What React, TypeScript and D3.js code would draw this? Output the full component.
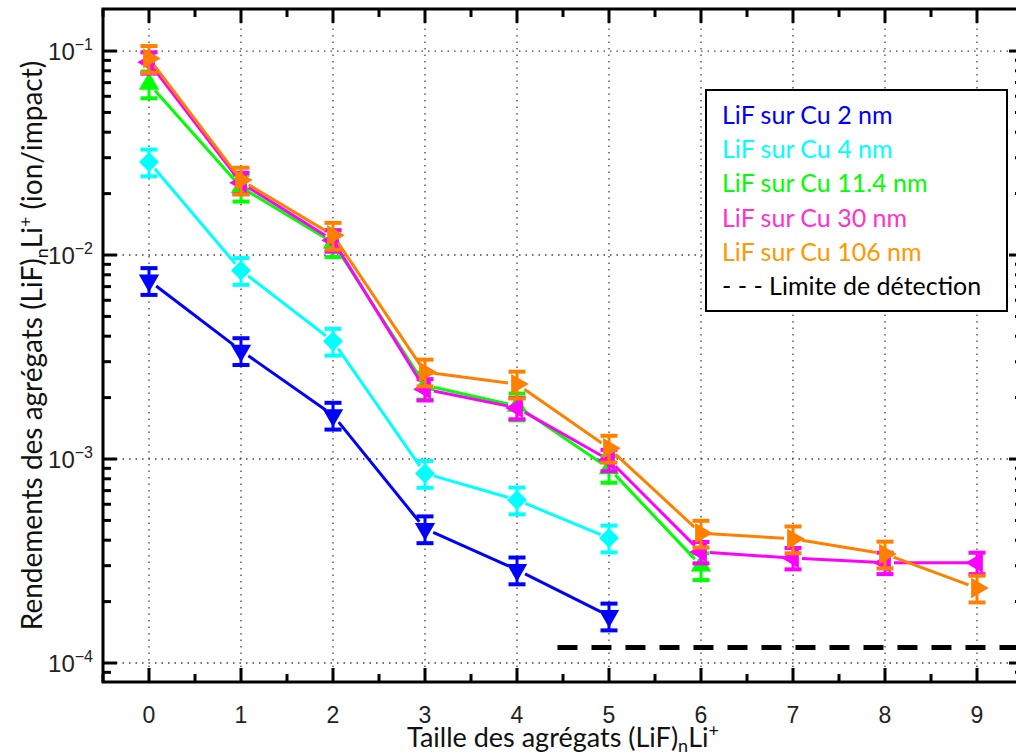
import React from 'react';
import * as d3 from 'd3';

// ---------- data ----------
const clusterSizes = [0, 1, 2, 3, 4, 5, 6, 7, 8, 9];
const yieldCu2nm = [0.0075, 0.0034, 0.00164, 0.000455, 0.000286, 0.00017];
const yieldCu4nm = [0.0286, 0.0084, 0.00378, 0.00085, 0.00063, 0.00041];
const yieldCu11nm = [0.069, 0.0215, 0.0115, 0.0023, 0.00182, 0.0009, 0.0003];
const yieldCu30nm = [0.088, 0.0226, 0.0118, 0.0022, 0.00178, 0.00099, 0.00035, 0.000327, 0.00031, 0.00031];
const yieldCu106nm = [0.092, 0.0233, 0.0125, 0.00267, 0.00233, 0.00113, 0.000433, 0.000406, 0.000342, 0.000233];
const relativeErrors = [0.15, 0.15, 0.15, 0.12, 0.15];
const seriesLabels = ['LiF sur Cu 2 nm', 'LiF sur Cu 4 nm', 'LiF sur Cu 11.4 nm', 'LiF sur Cu 30 nm', 'LiF sur Cu 106 nm'];
const seriesColors = ['#0000ff', '#00ffff', '#00ff00', '#ff00ff', '#ff8000'];
const legendTextColors = ['#0000ff', '#00ffff', '#00ff00', '#ff33cc', '#ff9900'];
const seriesMarkers = ['down', 'diamond', 'up', 'left', 'right'];
const detectionLimit = 1.19e-4;
const detectionStartX = 4.44;
const detectionLabel = '- - - Limite de détection';
const xTickValues = [0, 1, 2, 3, 4, 5, 6, 7, 8, 9];
const yDecadeExponents = [-4, -3, -2, -1];

const seriesValues = [yieldCu2nm, yieldCu4nm, yieldCu11nm, yieldCu30nm, yieldCu106nm];

// ---------- layout ----------
const W = 1016;
const H = 754;
const left = 103;
const right = 1023;
const top = 9;
const bottom = 682;

const x = d3.scaleLinear().domain([-0.5, 9.5]).range([left, right]);
const y = d3.scaleLog().domain([8.07e-5, 0.1607]).range([bottom, top]);

const narrowFont = '"Liberation Sans Narrow", "Liberation Sans", Arial, sans-serif';
const textFont = 'Lato, "Open Sans", sans-serif';

function markerPath(kind: string): { d: string; rot: number } {
  if (kind === 'diamond') {
    const r = 10;
    return { d: `M0,${-r}L${r},0L0,${r}L${-r},0Z`, rot: 0 };
  }
  const d = d3.symbol().type(d3.symbolTriangle).size(180)() as string;
  const rot = kind === 'up' ? 0 : kind === 'down' ? 180 : kind === 'left' ? -90 : 90;
  return { d, rot };
}

function Series({ idx }: { idx: number }) {
  const vals = seriesValues[idx];
  const color = seriesColors[idx];
  const err = relativeErrors[idx];
  const pts = vals.map((v, i) => [x(clusterSizes[i]), y(v)] as [number, number]);
  const gap = 9;
  const segs = pts.slice(1).map((p, i) => {
    const a = pts[i];
    const dx = p[0] - a[0];
    const dy = p[1] - a[1];
    const len = Math.hypot(dx, dy);
    const ux = dx / len;
    const uy = dy / len;
    return [a[0] + ux * gap, a[1] + uy * gap, p[0] - ux * gap, p[1] - uy * gap];
  });
  const m = markerPath(seriesMarkers[idx]);
  const cap = 8.5;
  return (
    <g>
      {segs.map((s, i) => (
        <line key={'l' + i} x1={s[0]} y1={s[1]} x2={s[2]} y2={s[3]} stroke={color} strokeWidth={3} />
      ))}
      {vals.map((v, i) => {
        const cx = x(clusterSizes[i]);
        const yt = y(v * (1 + err));
        const yb = y(v * (1 - err));
        return (
          <g key={'e' + i}>
            <line x1={cx} x2={cx} y1={yt} y2={yb} stroke={color} strokeWidth={3} />
            <line x1={cx - cap} x2={cx + cap} y1={yt} y2={yt} stroke={color} strokeWidth={4} />
            <line x1={cx - cap} x2={cx + cap} y1={yb} y2={yb} stroke={color} strokeWidth={4} />
          </g>
        );
      })}
      {vals.map((v, i) => (
        <path
          key={'m' + i}
          d={m.d}
          fill={color}
          transform={`translate(${x(clusterSizes[i])},${y(v)}) rotate(${m.rot})`}
        />
      ))}
    </g>
  );
}

export default function App() {
  const halfTicks = d3.range(-0.5, 9.51, 0.5).filter((t) => !Number.isInteger(t));
  const minorY: number[] = [];
  yDecadeExponents.concat([-5]).forEach((e) => {
    for (let k = 2; k <= 9; k++) {
      const v = k * Math.pow(10, e);
      if (v >= y.domain()[0] && v <= y.domain()[1]) minorY.push(v);
    }
  });

  const legendX = 706;
  const legendY = 90;
  const legendW = 301;
  const legendH = 221;
  const rowH = 34.2;

  return (
    <svg
      width={W}
      height={H}
      style={{ position: 'absolute', left: 0, top: 0, background: '#fff' }}
      xmlns="http://www.w3.org/2000/svg"
    >
      <rect x={0} y={0} width={W} height={H} fill="#fff" />
      {/* grid */}
      <g stroke="#444" strokeWidth={1.3} strokeDasharray="1.5,5">
        {xTickValues.map((t) => (
          <line key={'gx' + t} x1={x(t)} x2={x(t)} y1={top} y2={bottom} />
        ))}
        {yDecadeExponents.map((e) => (
          <line key={'gy' + e} x1={left} x2={right} y1={y(Math.pow(10, e))} y2={y(Math.pow(10, e))} />
        ))}
      </g>

      {/* detection limit */}
      <line
        x1={x(detectionStartX)}
        x2={right}
        y1={y(detectionLimit)}
        y2={y(detectionLimit)}
        stroke="#000"
        strokeWidth={5}
        strokeDasharray="20,14"
      />

      {/* series */}
      {seriesValues.map((_, i) => (
        <Series key={i} idx={i} />
      ))}

      {/* axes frame */}
      <g stroke="#000" strokeWidth={3} fill="none">
        <rect x={left} y={top} width={right - left} height={bottom - top} />
        {xTickValues.map((t) => (
          <g key={'xt' + t}>
            <line x1={x(t)} x2={x(t)} y1={bottom} y2={bottom - 14} />
            <line x1={x(t)} x2={x(t)} y1={top} y2={top + 14} />
          </g>
        ))}
        {halfTicks.map((t) => (
          <g key={'xm' + t}>
            <line x1={x(t)} x2={x(t)} y1={bottom} y2={bottom - 8} />
            <line x1={x(t)} x2={x(t)} y1={top} y2={top + 8} />
          </g>
        ))}
        {yDecadeExponents.map((e) => {
          const yy = y(Math.pow(10, e));
          return (
            <g key={'yt' + e}>
              <line x1={left} x2={left + 14} y1={yy} y2={yy} />
              <line x1={right} x2={right - 14} y1={yy} y2={yy} />
            </g>
          );
        })}
        {minorY.map((v, i) => (
          <g key={'ym' + i}>
            <line x1={left} x2={left + 8} y1={y(v)} y2={y(v)} />
            <line x1={right} x2={right - 8} y1={y(v)} y2={y(v)} />
          </g>
        ))}
      </g>

      {/* x tick labels */}
      <g fontFamily={narrowFont} fontSize={23} fill="#222" textAnchor="middle">
        {xTickValues.map((t) => (
          <text key={'xl' + t} x={x(t)} y={bottom + 41}>
            {t}
          </text>
        ))}
      </g>

      {/* y tick labels */}
      <g fontFamily={narrowFont} fill="#222">
        {yDecadeExponents.map((e) => (
          <text key={'yl' + e} x={left - 10} y={y(Math.pow(10, e)) + 9} fontSize={24} textAnchor="end">
            <tspan>10</tspan>
            <tspan fontSize={16} dy={-10}>{'\u2212' + Math.abs(e)}</tspan>
          </text>
        ))}
      </g>

      {/* axis titles */}
      <text
        x={(left + right) / 2}
        y={747}
        fontFamily={textFont}
        fontSize={27}
        textAnchor="middle"
        fill="#111"
      >
        Taille des agrégats (LiF)
        <tspan fontSize={18} dy={5}>n</tspan>
        <tspan dy={-5}>Li</tspan>
        <tspan fontSize={18} dy={-10}>+</tspan>
      </text>
      <text
        transform={`translate(42,${(top + bottom) / 2}) rotate(-90)`}
        fontFamily={textFont}
        fontSize={28}
        textAnchor="middle"
        fill="#111"
      >
        Rendements des agrégats (LiF)
        <tspan fontSize={18} dy={6}>n</tspan>
        <tspan dy={-6}>Li</tspan>
        <tspan fontSize={18} dy={-10}>+</tspan>
        <tspan dy={10}> (ion/impact)</tspan>
      </text>

      {/* legend */}
      <rect x={legendX} y={legendY} width={legendW} height={legendH} fill="#fff" stroke="#000" strokeWidth={2} />
      <g fontFamily={textFont} fontSize={25}>
        {seriesLabels.map((s, i) => (
          <text key={'lg' + i} x={legendX + 16} y={legendY + 34 + i * rowH} fill={legendTextColors[i]}>
            {s}
          </text>
        ))}
        <text x={legendX + 16} y={legendY + 34 + 5 * rowH} fill="#000">
          {detectionLabel}
        </text>
      </g>
    </svg>
  );
}
